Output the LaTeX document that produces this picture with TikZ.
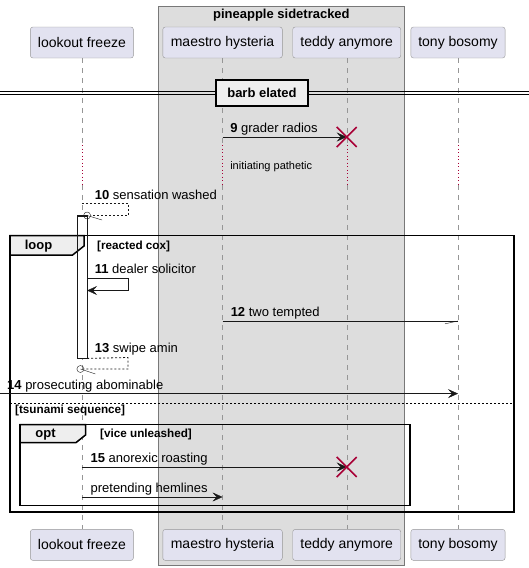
\documentclass[tikz,border=0pt]{standalone}
\usepackage{fontspec}
\setmainfont{Liberation Sans}
\usepackage{xcolor}
\usetikzlibrary{positioning}
\usetikzlibrary{calc}
\usetikzlibrary{arrows.meta}
\definecolor{partfill}{RGB}{226, 226, 240}
\definecolor{partline}{RGB}{150, 150, 150}
\definecolor{groupfill}{RGB}{221, 221, 221}
\definecolor{tabfill}{RGB}{238, 238, 238}
\definecolor{destroy}{RGB}{168, 0, 54}
\definecolor{msgline}{RGB}{24, 24, 24}
\tikzstyle{party} = [
	draw=partline,
	fill=partfill,
	rounded corners=2.5pt,
	minimum height=31pt,
	inner sep=0pt,
	font=\fontsize{14}{16}\selectfont
]
\tikzstyle{groupbox} = [
	draw=partline!80!black,
	fill=groupfill,
	inner sep=0pt
]
\tikzstyle{lifeline} = [
	draw=partline,
	dash pattern=on 5pt off 5pt
]
\tikzstyle{delayline} = [
	draw=destroy,
	dash pattern=on 1pt off 2.5pt
]
\tikzstyle{msg} = [
	draw=msgline,
	-{Stealth[length=10pt,width=9pt,inset=4pt]}
]
\tikzstyle{reply} = [
	draw=msgline,
	line width=0.8pt,
	dash pattern=on 2pt off 2pt
]
\tikzstyle{msglabel} = [
	anchor=base west,
	inner sep=0pt,
	font=\fontsize{13}{15}\selectfont
]
\tikzstyle{frame} = [
	draw=black,
	line width=1.5pt
]
\tikzstyle{tab} = [
	draw=black,
	line width=1.5pt,
	fill=tabfill
]
\tikzstyle{guard} = [
	anchor=west,
	inner sep=0pt,
	font=\fontsize{11.7}{13}\selectfont\bfseries
]
\tikzstyle{cross} = [
	draw=destroy,
	line width=1.5pt
]

\begin{document}
\begin{tikzpicture}[x=1pt, y=-1pt, node distance=0pt and 0pt]
	\useasboundingbox (0,0) rectangle (529,568);

	%
	% Box around the middle pair
	\node[groupbox, minimum width=245.6pt, minimum height=559pt, anchor=north west] (PS) at (158.4,6) {};
	\node[inner sep=0pt, font=\fontsize{13}{15}\selectfont\bfseries] (PStitle) at (PS.north |- 0,15) {pineapple sidetracked};

	% Participants, top row
	\node[party, minimum width=103pt] (LF) at (81.9,42.5) {lookout freeze};
	\node[party, minimum width=119.5pt, right=29pt of LF] (MH) {maestro hysteria};
	\node[party, minimum width=108pt, right=10pt of MH] (TA) {teddy anymore};
	\node[party, minimum width=94.2pt, right=9.8pt of TA] (TB) {tony bosomy};

	% Participants, bottom row
	\node[party, minimum width=103pt, below=471pt of LF] (LFb) {lookout freeze};
	\node[party, minimum width=119.5pt, below=471pt of MH] (MHb) {maestro hysteria};
	\node[party, minimum width=108pt, below=471pt of TA] (TAb) {teddy anymore};
	\node[party, minimum width=94.2pt, below=471pt of TB] (TBb) {tony bosomy};

	% Lifelines, with the delay
	\foreach \p in {LF, MH, TA, TB} {
		\draw[lifeline] (\p.south) -- (\p |- 0,145);
		\draw[delayline] (\p |- 0,145) -- (\p |- 0,185);
		\draw[lifeline] (\p |- 0,185) -- (\p b.north);
	}

	% Divider
	\draw (0,91) -- (529,91);
	\draw (0,94.6) -- (529,94.6);
	\node[tab, minimum width=92pt, minimum height=26pt, inner sep=0pt, font=\fontsize{13}{15}\selectfont\bfseries] (BE) at (262,92.8) {barb elated};

	% Delay text
	\node[anchor=west, inner sep=0pt, font=\fontsize{11}{13}\selectfont] (DL) at ($(MH |- 0,167)+(7.5,0)$) {initiating pathetic};

	% Activation
	\node[draw=msgline, fill=white, minimum width=10pt, minimum height=142.5pt, inner sep=0pt, anchor=north] (ACT) at (LF |- 0,215.5) {};

	% Loop frame
	\draw[frame] (10,235.7) rectangle (514,512);
	\draw[tab] (10,235.7) -- (84,235.7) -- (84,246) -- (72.6,255) -- (10,255) -- cycle;
	\draw[msgline] (ACT.north west) rectangle (ACT.south east);
	\node[inner sep=0pt, font=\fontsize{13}{15}\selectfont\bfseries] (LOOP) at (38.5,246) {loop};
	\node[guard] (G1) at (97,246) {[reacted cox]};
	\draw[dash pattern=on 2pt off 2pt] (10,403) -- (514,403);
	\node[guard] (G2) at (15,410.5) {[tsunami sequence]};

	% Opt frame
	\draw[frame] (20,424.7) rectangle (410,505.5);
	\draw[tab] (20,424.7) -- (85.5,424.7) -- (85.5,435) -- (76,442.6) -- (20,442.6) -- cycle;
	\node[inner sep=0pt, font=\fontsize{13}{15}\selectfont\bfseries] (OPT) at (45.6,434.5) {opt};
	\node[guard] (G3) at (100,434) {[vice unleashed]};

	% Messages
	\coordinate (m9a) at (MH |- 0,137);
	\coordinate (m9b) at (TA |- 0,137);
	\draw[msg] (m9a) -- (m9b);
	\node[msglabel] at ($(m9a)+(7.5,-4.5)$) {\textbf{9} grader radios};
	\draw[cross] ($(m9b)+(-10,-10)$) -- ($(m9b)+(10,10)$);
	\draw[cross] ($(m9b)+(-10,10)$) -- ($(m9b)+(10,-10)$);

	\coordinate (m10a) at (LF |- 0,203);
	\draw[reply] (m10a) -- (128,203) -- (128,215.5) -- ($(ACT.north east)+(3.5,0)$);
	\draw[msgline] (ACT.north east) circle (3.5pt);
	\draw[msgline] (ACT.north east) -- ++(15,4.5);
	\node[msglabel] at (94.6,199) {\textbf{10} sensation washed};

	\coordinate (m11a) at (ACT.east |- 0,278);
	\coordinate (m11b) at (ACT.east |- 0,290.5);
	\draw[msg] (m11a) -- (128,278) -- (128,290.5) -- (m11b);
	\node[msglabel] at (94.6,273) {\textbf{11} dealer solicitor};

	\coordinate (m12a) at (MH |- 0,321);
	\coordinate (m12b) at (TB |- 0,321);
	\draw[msgline] (m12a) -- (m12b);
	\draw[msgline] (m12b) -- ++(-13,2.8);
	\node[msglabel] at ($(m12a)+(8,-4.5)$) {\textbf{12} two tempted};

	\coordinate (m13a) at (ACT.south east);
	\coordinate (m13b) at ($(LF |- 0,369)+(-1.5,0)$);
	\draw[reply] (m13a) -- (128,357.5) -- (128,369) -- ($(m13b)+(3.5,0)$);
	\draw[msgline] (m13b) circle (3.5pt);
	\draw[msgline] (m13b) -- ++(15,5);
	\node[msglabel] at (94.6,352) {\textbf{13} swipe amin};

	\coordinate (m14a) at (0,393.6);
	\coordinate (m14b) at (TB |- 0,393.6);
	\draw[msg] (m14a) -- (m14b);
	\node[msglabel] at (7,389) {\textbf{14} prosecuting abominable};

	\coordinate (m15a) at (LF |- 0,467);
	\coordinate (m15b) at (TA |- 0,467);
	\draw[msg] (m15a) -- (m15b);
	\node[msglabel] at ($(m15a)+(8.5,-4.5)$) {\textbf{15} anorexic roasting};
	\draw[cross] ($(m15b)+(-10,-10)$) -- ($(m15b)+(10,10)$);
	\draw[cross] ($(m15b)+(-10,10)$) -- ($(m15b)+(10,-10)$);

	\coordinate (m16a) at (LF |- 0,497);
	\coordinate (m16b) at (MH |- 0,497);
	\draw[msg] (m16a) -- (m16b);
	\node[msglabel] at ($(m16a)+(8.5,-4.5)$) {pretending hemlines};

\end{tikzpicture}
\end{document}
